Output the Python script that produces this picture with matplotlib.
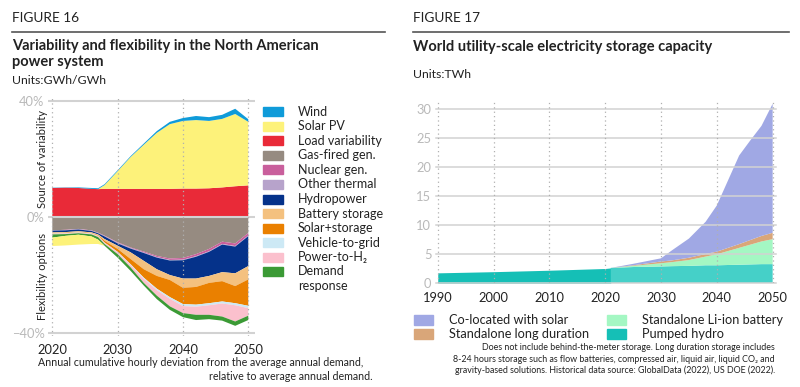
import matplotlib.pyplot as plt
from matplotlib.lines import Line2D
from matplotlib.patches import Rectangle

plt.rcParams['font.family'] = ['Lato', 'DejaVu Sans']

# ---- Figure 16: variability and flexibility, North America (% of demand)
years16 = [2020, 2022, 2024, 2026, 2027, 2028, 2030, 2032, 2034, 2036,
           2038, 2040, 2042, 2044, 2046, 2048, 2050]

# sources of variability (stacked upward)
load_var = [10.0, 10.1, 10.0, 9.7, 9.6, 9.7, 9.7, 9.7, 9.7, 9.7, 9.7, 9.8, 9.8, 9.9, 10.2, 10.6, 10.9]
solar_pos = [0, 0, 0, 0, 0, 1.3, 6.1, 11.0, 15.2, 19.3, 22.3, 23.3, 23.6, 23.2, 23.6, 24.9, 21.9]
wind = [0.1, 0.1, 0.2, 0.3, 0.3, 0.3, 0.3, 0.3, 0.4, 0.6, 0.8, 1.0, 1.4, 1.3, 1.4, 1.8, 0.9]

# flexibility options (stacked downward)
gas = [-4.6, -4.4, -4.1, -4.6, -5.4, -6.4, -8.7, -10.5, -11.9, -13.4, -14.3, -14.1, -12.8, -11.0, -8.5, -9.1, -5.5]
nuclear = [-0.05, -0.1, -0.1, -0.1, -0.1, -0.15, -0.2, -0.2, -0.3, -0.4, -0.5, -0.6, -0.7, -0.8, -0.8, -0.9, -0.9]
other_thermal = [-0.05, -0.1, -0.1, -0.1, -0.1, -0.15, -0.2, -0.2, -0.2, -0.2, -0.2, -0.2, -0.2, -0.2, -0.2, -0.2, -0.2]
hydro = [-0.6, -0.6, -0.6, -0.5, -0.4, -0.9, -0.8, -1.3, -2.7, -4.0, -5.0, -6.3, -7.5, -8.3, -9.5, -9.2, -10.3]
battery = [-0.3, -0.3, -0.3, -0.3, -0.3, -0.6, -1.1, -2.3, -2.9, -2.3, -1.7, -3.2, -2.9, -2.4, -3.1, -4.4, -4.6]
solar_storage = [-0.1, -0.1, -0.1, -0.1, -0.2, -0.6, -1.0, -1.8, -2.9, -4.4, -5.9, -5.6, -6.1, -7.0, -7.0, -5.9, -9.1]
v2g = [-0.1, -0.1, -0.1, -0.1, -0.1, -0.1, -0.2, -0.3, -0.4, -0.5, -0.6, -0.7, -0.7, -0.7, -0.7, -0.7, -0.8]
p2h2 = [-0.2, -0.2, -0.2, -0.2, -0.3, -0.4, -0.6, -0.8, -1.4, -1.9, -2.6, -2.4, -2.8, -3.3, -4.5, -5.6, -2.6]
demand = [-1.1, -0.6, -0.5, -0.7, -0.9, -0.6, -1.2, -1.2, -0.9, -1.2, -1.2, -1.4, -1.8, -1.5, -1.4, -1.5, -1.5]
solar_neg = [-2.9, -3.3, -3.4, -2.6, -1.5, 0, 0, 0, 0, 0, 0, 0, 0, 0, 0, 0, 0]

labels16 = ['Wind', 'Solar PV', 'Load variability', 'Gas-fired gen.', 'Nuclear gen.',
            'Other thermal', 'Hydropower', 'Battery storage', 'Solar+storage',
            'Vehicle-to-grid', 'Power-to-H\u2082', 'Demand\nresponse']
colors16 = ['#0f9bd9', '#fdf27a', '#e92a38', '#968b81', '#c95f9c', '#b7a3cb',
            '#05328a', '#f4c17f', '#ea8000', '#cde9f5', '#fbc0cd', '#3b9a35']
c = dict(zip(labels16, colors16))

# ---- Figure 17: world utility-scale storage capacity (TWh)
hist_years = [1990, 2000, 2010, 2020, 2021]
hist_pumped = [1.8, 2.0, 2.25, 2.55, 2.65]

proj_years = [2021, 2025, 2030, 2032, 2035, 2038, 2040, 2042, 2044, 2046, 2048, 2050]
pumped = [2.65, 2.8, 2.9, 2.95, 3.0, 3.1, 3.1, 3.15, 3.2, 3.25, 3.3, 3.3]
li_ion = [0, 0.2, 0.55, 0.7, 1.0, 1.5, 1.9, 2.4, 2.9, 3.4, 3.9, 4.3]
long_dur = [0, 0.1, 0.3, 0.3, 0.4, 0.45, 0.45, 0.55, 0.65, 0.8, 0.95, 1.1]
coloc = [0, 0.25, 0.55, 1.75, 3.3, 5.55, 7.95, 11.6, 15.25, 17.15, 18.95, 22.2]

labels17 = ['Co-located with solar', 'Standalone long duration',
            'Standalone Li-ion battery', 'Pumped hydro']
colors17 = ['#a0a8e4', '#d9a679', '#a4f7c3', '#15bfb6']
pumped_proj_color = '#45d0c8'

W, H = 800, 387
fig = plt.figure(figsize=(8, 3.87), dpi=100)


def px(x, y):
    return x / W, 1 - y / H


grid_c = '#d2d2d2'
dot_c = '#b0b0b0'
tick_c = '#b9b9b9'
dark = '#222222'

# headers
for x0, x1, fig_no in [(12, 385, 'FIGURE 16'), (413, 789, 'FIGURE 17')]:
    fig.text(*px(x0, 18), fig_no, fontsize=9.8, color=dark, va='center', ha='left')
    fig.add_artist(Line2D([x0 / W, x1 / W], [1 - 32 / H] * 2, color='#555555', lw=1.2))

fig.text(*px(12, 39), 'Variability and flexibility in the North American\npower system',
         fontsize=10.5, fontweight='bold', color=dark, va='top', ha='left', linespacing=1.2)
fig.text(*px(12, 80), 'Units:GWh/GWh', fontsize=8.8, color=dark, va='center')
fig.text(*px(413, 47), 'World utility-scale electricity storage capacity',
         fontsize=10.5, fontweight='bold', color=dark, va='center', ha='left')
fig.text(*px(413, 75), 'Units:TWh', fontsize=8.8, color=dark, va='center')

# ---- left chart
ax1 = fig.add_axes([48 / W, 1 - 336 / H, 207 / W, 238 / H])
ax1.stackplot(years16, load_var, solar_pos, wind,
              colors=[c['Load variability'], c['Solar PV'], c['Wind']], lw=0)
ax1.stackplot(years16, gas, nuclear, other_thermal, hydro, battery, solar_storage,
              v2g, p2h2, demand, solar_neg,
              colors=[c['Gas-fired gen.'], c['Nuclear gen.'], c['Other thermal'],
                      c['Hydropower'], c['Battery storage'], c['Solar+storage'],
                      c['Vehicle-to-grid'], c['Power-to-H\u2082'],
                      c['Demand\nresponse'], c['Solar PV']], lw=0)
ax1.set_xlim(2019.34, 2051.03)
ax1.set_ylim(-41, 41)
for yv in [-40, 0, 40]:
    ax1.axhline(yv, color=grid_c, lw=1.5, zorder=3)
for xv in [2020, 2030, 2040, 2050]:
    ax1.axvline(xv, color=dot_c, lw=0.9, ls=(0, (1, 2.5)), zorder=3)
ax1.set_xticks([2020, 2030, 2040, 2050])
ax1.set_xticklabels(['2020', '2030', '2040', '2050'], fontsize=9.3, color=dark)
ax1.set_yticks([-40, 0, 40])
ax1.set_yticklabels(['\u221240%', '0%', '40%'], fontsize=9.3, color=tick_c)
ax1.tick_params(axis='y', length=0, pad=2.5)
ax1.tick_params(axis='x', length=0, pad=5.5)
for s in ax1.spines.values():
    s.set_visible(False)

fig.text(*px(42, 159), 'Source of variability', rotation=90, fontsize=8,
         color=dark, ha='center', va='center')
fig.text(*px(42, 276), 'Flexibility options', rotation=90, fontsize=8,
         color=dark, ha='center', va='center')
fig.text(*px(38, 362), 'Annual cumulative hourly deviation from the average annual demand,',
         fontsize=7.7, color=dark, ha='left', va='center')
fig.text(*px(373, 376), 'relative to average annual demand.',
         fontsize=7.7, color=dark, ha='right', va='center')

# left legend
for i, (lab, col) in enumerate(zip(labels16, colors16)):
    yc = 111.7 + i * 14.55
    fig.add_artist(Rectangle(px(263, yc + 4.5), 20 / W, 9 / H, color=col,
                             transform=fig.transFigure))
    if '\n' in lab:
        fig.text(*px(298, yc - 7), lab, fontsize=9, color=dark, ha='left',
                 va='top', linespacing=1.3)
    else:
        fig.text(*px(298, yc), lab, fontsize=9, color=dark, ha='left', va='center')

# ---- right chart
ax2 = fig.add_axes([435.5 / W, 1 - 283.3 / H, 340.5 / W, 31.2 * 5.81 / H])
ax2.fill_between(hist_years, 0, hist_pumped, color=colors17[3], lw=0)
ax2.stackplot(proj_years, pumped, li_ion, long_dur, coloc,
              colors=[pumped_proj_color, colors17[2], colors17[1], colors17[0]], lw=0)
ax2.set_xlim(1989.6, 2050.6)
ax2.set_ylim(0, 31.2)
for yv in range(0, 31, 5):
    ax2.axhline(yv, color=grid_c, lw=1.1, zorder=3, clip_on=False)
for xv in range(1990, 2051, 10):
    ax2.axvline(xv, color=dot_c, lw=0.9, ls=(0, (1, 2.5)), zorder=3)
ax2.set_xticks(range(1990, 2051, 10))
ax2.set_xticklabels([str(y) for y in range(1990, 2051, 10)], fontsize=9.3, color=dark)
ax2.set_yticks(range(0, 31, 5))
ax2.set_yticklabels([str(v) for v in range(0, 31, 5)], fontsize=9.3, color=tick_c)
ax2.tick_params(axis='y', length=0, pad=3)
ax2.tick_params(axis='x', length=0, pad=6.5)
for s in ax2.spines.values():
    s.set_visible(False)

# right legend (two columns)
for i, (lab, col) in enumerate(zip(labels17, colors17)):
    col_i, row_i = divmod(i, 2)
    x_sw = 414 if col_i == 0 else 607
    yc = 320 + row_i * 14
    fig.add_artist(Rectangle(px(x_sw, yc + 5), 19 / W, 10 / H, color=col,
                             transform=fig.transFigure))
    fig.text(*px(x_sw + 35, yc), lab, fontsize=9.2, color=dark, ha='left', va='center')

note = ('Does not include behind-the-meter storage. Long duration storage includes\n'
        '8-24 hours storage such as flow batteries, compressed air, liquid air, liquid CO\u2082 and\n'
        'gravity-based solutions. Historical data source: GlobalData (2022), US DOE (2022).')
fig.text(*px(775, 343.5), note, fontsize=6.4, color=dark, ha='right', va='top',
         multialignment='right', linespacing=1.3)

fig.savefig('out.png', dpi=100)
